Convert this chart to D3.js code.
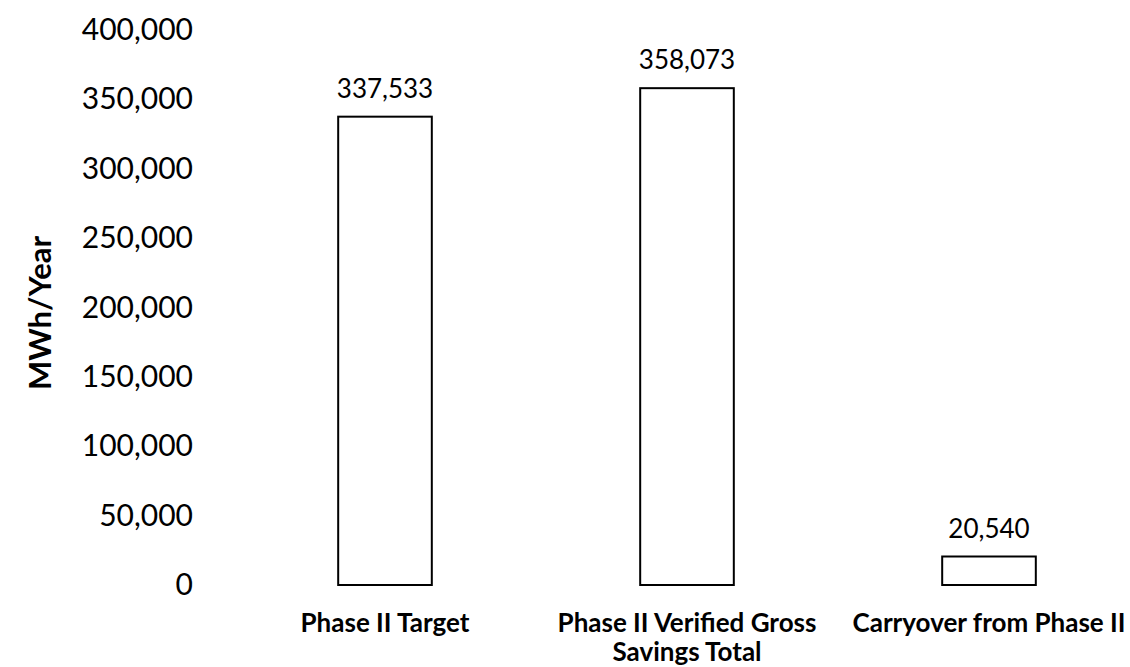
<!DOCTYPE html>
<html>
<head>
<meta charset="utf-8">
<script src="https://cdn.jsdelivr.net/npm/d3@7"></script>
<style>
  body { margin: 0; background: #fff; }
  text { font-family: Lato, "Open Sans", sans-serif; fill: #000; }
</style>
</head>
<body>
<div id="chart"></div>
<script>
// chart data
const categories = ["Phase II Target", "Phase II Verified Gross Savings Total", "Carryover from Phase II"];
const categoryLines = [["Phase II Target"], ["Phase II Verified Gross", "Savings Total"], ["Carryover from Phase II"]];
const values = [337533, 358073, 20540];
const yTicks = [0, 50000, 100000, 150000, 200000, 250000, 300000, 350000, 400000];

const width = 1130, height = 667;
const svg = d3.select("#chart").append("svg")
    .attr("width", width)
    .attr("height", height);

const x = d3.scaleBand()
    .domain(categories)
    .range([234, 1140])
    .paddingInner(0.69)
    .paddingOuter(0.345);

const y = d3.scaleLinear()
    .domain([0, 400000])
    .range([585, 30]);

const fmt = d3.format(",");

// y axis labels only, no line
const yAxis = svg.append("g")
    .attr("transform", "translate(193,0)")
    .call(d3.axisLeft(y).tickValues(yTicks).tickFormat(fmt).tickSize(0).tickPadding(0));
yAxis.select(".domain").remove();
yAxis.selectAll("text")
    .style("font-family", "Lato, 'Open Sans', sans-serif")
    .style("font-size", "30px")
    .attr("dy", "0.32em");

// axis title
svg.append("text")
    .attr("transform", "translate(51,313) rotate(-90)")
    .attr("text-anchor", "middle")
    .style("font-size", "31px")
    .style("font-weight", "bold")
    .text("MWh/Year");

// bars
svg.selectAll("rect.bar")
    .data(values)
    .enter().append("rect")
    .attr("class", "bar")
    .attr("x", (d, i) => x(categories[i]))
    .attr("y", d => y(d))
    .attr("width", x.bandwidth())
    .attr("height", d => y(0) - y(d))
    .attr("fill", "#fff")
    .attr("stroke", "#000")
    .attr("stroke-width", 2);

// value labels
svg.selectAll("text.val")
    .data(values)
    .enter().append("text")
    .attr("class", "val")
    .attr("x", (d, i) => x(categories[i]) + x.bandwidth() / 2)
    .attr("y", d => y(d) - 19)
    .attr("text-anchor", "middle")
    .style("font-size", "26px")
    .text(d => fmt(d));

// category labels
categoryLines.forEach((lines, i) => {
    const cx = x(categories[i]) + x.bandwidth() / 2;
    const t = svg.append("text")
        .attr("x", cx)
        .attr("y", 632)
        .attr("text-anchor", "middle")
        .style("font-size", "26px")
        .style("font-weight", "bold");
    lines.forEach((l, j) => {
        t.append("tspan")
            .attr("x", cx)
            .attr("dy", j === 0 ? 0 : 29)
            .text(l);
    });
});
</script>
</body>
</html>
